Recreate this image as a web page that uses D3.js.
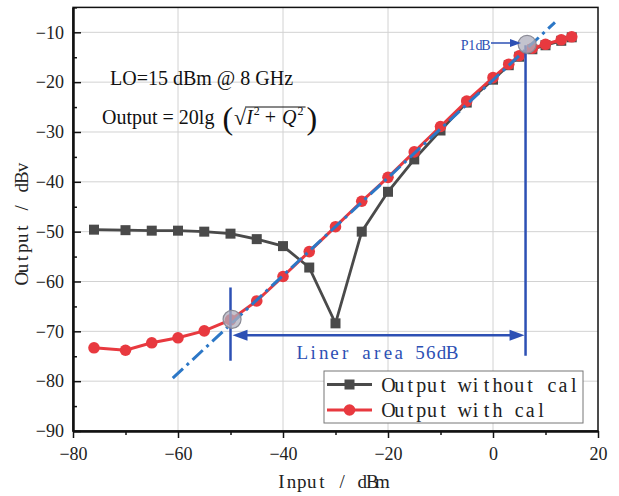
<!DOCTYPE html>
<html><head><meta charset="utf-8">
<script src="https://cdn.jsdelivr.net/npm/d3@7/dist/d3.min.js"></script>
<style>body{margin:0;background:#fff}svg{display:block}</style>
</head><body>
<svg id="c" width="619" height="496"></svg>
<script>
// ---- data ----
const inputX = [-76, -70, -65, -60, -55, -50, -45, -40, -35, -30, -25, -20, -15, -10, -5, 0, 3, 5, 7.5, 10, 13, 15];
const outWithoutCal = [-49.6, -49.7, -49.8, -49.8, -50.0, -50.4, -51.5, -52.9, -57.2, -68.4, -50.0, -42.0, -35.5, -29.7, -24.1, -19.5, -16.6, -14.9, -13.4, -12.6, -11.7, -11.0];
const outWithCal = [-73.3, -73.8, -72.3, -71.3, -69.9, -67.7, -63.9, -59.0, -54.0, -49.0, -43.9, -39.1, -34.0, -28.9, -23.8, -19.1, -16.4, -14.7, -13.2, -12.4, -11.5, -10.9];
const fitLine = [[-61, -79.4], [11.8, -8.0]];
const linearStart = -50, p1dbX = 6.2;
const markCircles = [[-49.7, -67.6], [6.5, -12.4]];
const xMajorTicks = [-80, -60, -40, -20, 0, 20];
const xMinorTicks = [-70, -50, -30, -10, 10];
const yMajorTicks = [-90, -80, -70, -60, -50, -40, -30, -20, -10];
const yMinorTicks = [-85, -75, -65, -55, -45, -35, -25, -15, -5];
const seriesNames = ["Output without cal", "Output with cal"];

const W = 619, H = 496;
const m = {l: 73, r: 21, t: 7.4, b: 65};
const svg = d3.select("#c");
const x = d3.scaleLinear().domain([-80, 20]).range([m.l, W - m.r]);
const y = d3.scaleLinear().domain([-90, -5]).range([H - m.b, m.t]);

const RED = "#e8393f", GRAY = "#4a4a4a", BLUE = "#2d50b4", BLUE2 = "#2c77c6";
const serif = "'Liberation Serif','Times New Roman',serif";

// fixed-cell (monospace-like) serif text: each char centred in its own cell
function monoText(parent, str, x0, yb, cell, size, color) {
  const xs = Array.from(str).map((c, i) => (x0 + cell * (i + 0.5)).toFixed(2)).join(" ");
  return parent.append("text").attr("x", xs).attr("y", yb).attr("text-anchor", "middle")
    .attr("font-family", serif).attr("font-size", size).attr("fill", color)
    .attr("xml:space", "preserve").text(str);
}

// grid
svg.append("g").selectAll("line").data(xMajorTicks.slice(1, -1)).join("line")
  .attr("x1", d => x(d)).attr("x2", d => x(d)).attr("y1", y(-90)).attr("y2", y(-5))
  .attr("stroke", "#d2d2d2").attr("stroke-width", 1);
svg.append("g").selectAll("line").data(yMajorTicks.slice(1)).join("line")
  .attr("x1", x(-80)).attr("x2", x(20)).attr("y1", d => y(d)).attr("y2", d => y(d))
  .attr("stroke", "#d2d2d2").attr("stroke-width", 1);

// frame
svg.append("rect").attr("x", x(-80)).attr("y", y(-5)).attr("width", x(20) - x(-80)).attr("height", y(-90) - y(-5))
  .attr("fill", "none").attr("stroke", "#111").attr("stroke-width", 1.5);

// axes
svg.append("g").attr("transform", `translate(0,${y(-90)})`)
  .call(d3.axisBottom(x).tickValues(xMajorTicks).tickSize(7).tickSizeOuter(0).tickPadding(9));
svg.append("g").attr("transform", `translate(0,${y(-90)})`)
  .call(d3.axisBottom(x).tickValues(xMinorTicks).tickSize(4).tickSizeOuter(0).tickFormat(""));
svg.append("g").attr("transform", `translate(${x(-80)},0)`)
  .call(d3.axisLeft(y).tickValues(yMajorTicks).tickSize(-8).tickSizeOuter(0).tickPadding(9));
svg.append("g").attr("transform", `translate(${x(-80)},0)`)
  .call(d3.axisLeft(y).tickValues(yMinorTicks).tickSize(-4).tickSizeOuter(0).tickFormat(""));
svg.selectAll(".domain").attr("stroke", "#111").attr("stroke-width", 2);
svg.selectAll(".tick line").attr("stroke", "#111").attr("stroke-width", 1.5);
svg.selectAll(".tick text").attr("font-family", serif).attr("font-size", 18).attr("fill", "#222");

// axis titles
const xt = "Input / dBm";
monoText(svg, xt, 332 - xt.length * 10.1 / 2, 488, 10.1, 19, "#222");
const yt = "Output / dBv";
const ytg = svg.append("g").attr("transform", `translate(28,${223}) rotate(-90)`);
monoText(ytg, yt, -yt.length * 10.1 / 2, 0, 10.1, 19, "#222");

// series
const line = d3.line().x(d => x(d[0])).y(d => y(d[1]));
const grayPts = inputX.map((v, i) => [v, outWithoutCal[i]]);
const redPts = inputX.map((v, i) => [v, outWithCal[i]]);

svg.append("path").datum(grayPts).attr("d", line).attr("fill", "none").attr("stroke", GRAY).attr("stroke-width", 2.8);
svg.append("g").selectAll("rect").data(grayPts).join("rect")
  .attr("x", d => x(d[0]) - 5).attr("y", d => y(d[1]) - 5).attr("width", 10).attr("height", 10).attr("fill", GRAY);

svg.append("path").datum(redPts).attr("d", line).attr("fill", "none").attr("stroke", RED).attr("stroke-width", 3);
svg.append("g").selectAll("circle").data(redPts).join("circle")
  .attr("cx", d => x(d[0])).attr("cy", d => y(d[1])).attr("r", 5.8).attr("fill", RED);

// fitted linear line (dash-dot)
svg.append("path").datum(fitLine).attr("d", line).attr("fill", "none").attr("stroke", BLUE2)
  .attr("stroke-width", 3).attr("stroke-dasharray", "14,5,3,5");

// annotation lines
svg.append("line").attr("x1", x(linearStart)).attr("x2", x(linearStart)).attr("y1", y(-61.2)).attr("y2", y(-75.9))
  .attr("stroke", BLUE).attr("stroke-width", 2.5);
svg.append("line").attr("x1", x(p1dbX)).attr("x2", x(p1dbX)).attr("y1", y(-12.6)).attr("y2", y(-74.9))
  .attr("stroke", BLUE).attr("stroke-width", 2.5);
const ay = y(-70.8);
svg.append("line").attr("x1", x(linearStart) + 14).attr("x2", x(p1dbX) - 14).attr("y1", ay).attr("y2", ay)
  .attr("stroke", BLUE).attr("stroke-width", 2.5);
function head(tipX, tipY, dir, len, hw) {
  svg.append("path").attr("d", `M${tipX},${tipY} L${tipX - dir * len},${tipY - hw} L${tipX - dir * len},${tipY + hw} Z`)
    .attr("fill", BLUE);
}
head(x(linearStart) + 2, ay, -1, 15, 5.5);
head(x(p1dbX) - 1, ay, 1, 15, 5.5);
monoText(svg, "Liner area 56dB", 297, 359, 10.7, 19, BLUE);

// marked circles
svg.append("g").selectAll("circle").data(markCircles).join("circle")
  .attr("cx", d => x(d[0])).attr("cy", d => y(d[1])).attr("r", 9)
  .attr("fill", "rgba(175,175,190,0.75)").attr("stroke", "#8a8a95").attr("stroke-width", 1.2);

// P1dB label
monoText(svg, "P1dB", 461, 50, 7.15, 14, BLUE);
svg.append("line").attr("x1", 491).attr("x2", 512).attr("y1", 43).attr("y2", 43).attr("stroke", BLUE).attr("stroke-width", 1.5);
svg.append("path").attr("d", "M521,43 L510,39 L510,47 Z").attr("fill", BLUE);

// text annotations
svg.append("text").attr("x", 110).attr("y", 85).attr("font-family", serif).attr("font-size", 20)
  .attr("fill", "#111").text("LO=15 dBm @ 8 GHz");
(function formula() {
  const by = 124; let cx = 102;
  const g = svg.append("g").attr("fill", "#111").attr("font-family", serif);
  function t(str, size, opts = {}) {
    const el = g.append("text").attr("x", cx).attr("y", by + (opts.dy || 0)).attr("font-size", size).text(str);
    if (opts.italic) el.attr("font-style", "italic");
    const w = el.node().getComputedTextLength();
    cx += w + (opts.gap || 0);
    return el;
  }
  t("Output = 20lg", 20, {gap: 8});
  const lp = g.append("text").attr("x", cx).attr("y", by + 5).attr("font-size", 32).text("(");
  cx += lp.node().getComputedTextLength() + 1;
  t("\u221A", 22, {dy: 1});
  const ovStart = cx;
  t("I", 20, {italic: true, gap: 1});
  t("2", 12, {dy: -9, gap: 0});
  t("\u00A0+\u00A0", 20, {gap: 1});
  t("Q", 20, {italic: true, gap: 1});
  t("2", 12, {dy: -9, gap: 2});
  g.append("line").attr("x1", ovStart - 1).attr("x2", cx).attr("y1", by - 17).attr("y2", by - 17)
    .attr("stroke", "#111").attr("stroke-width", 1);
  g.append("text").attr("x", cx + 1).attr("y", by + 5).attr("font-size", 32).text(")");
})();

// legend
const lg = svg.append("g");
lg.append("rect").attr("x", 324).attr("y", 371).attr("width", 259).attr("height", 52)
  .attr("fill", "#fff").attr("stroke", "#777").attr("stroke-width", 1);
[[GRAY, "sq"], [RED, "ci"]].forEach(([c, mk], i) => {
  const ly = 384.5 + i * 25.5;
  lg.append("line").attr("x1", 327).attr("x2", 372).attr("y1", ly).attr("y2", ly).attr("stroke", c).attr("stroke-width", 3);
  if (mk === "sq") lg.append("rect").attr("x", 344.5).attr("y", ly - 5).attr("width", 10).attr("height", 10).attr("fill", c);
  else lg.append("circle").attr("cx", 349.5).attr("cy", ly).attr("r", 5.8).attr("fill", c);
  monoText(lg, seriesNames[i], 383, ly + 7, 10.9, 20, "#222");
});
</script>
</body></html>
